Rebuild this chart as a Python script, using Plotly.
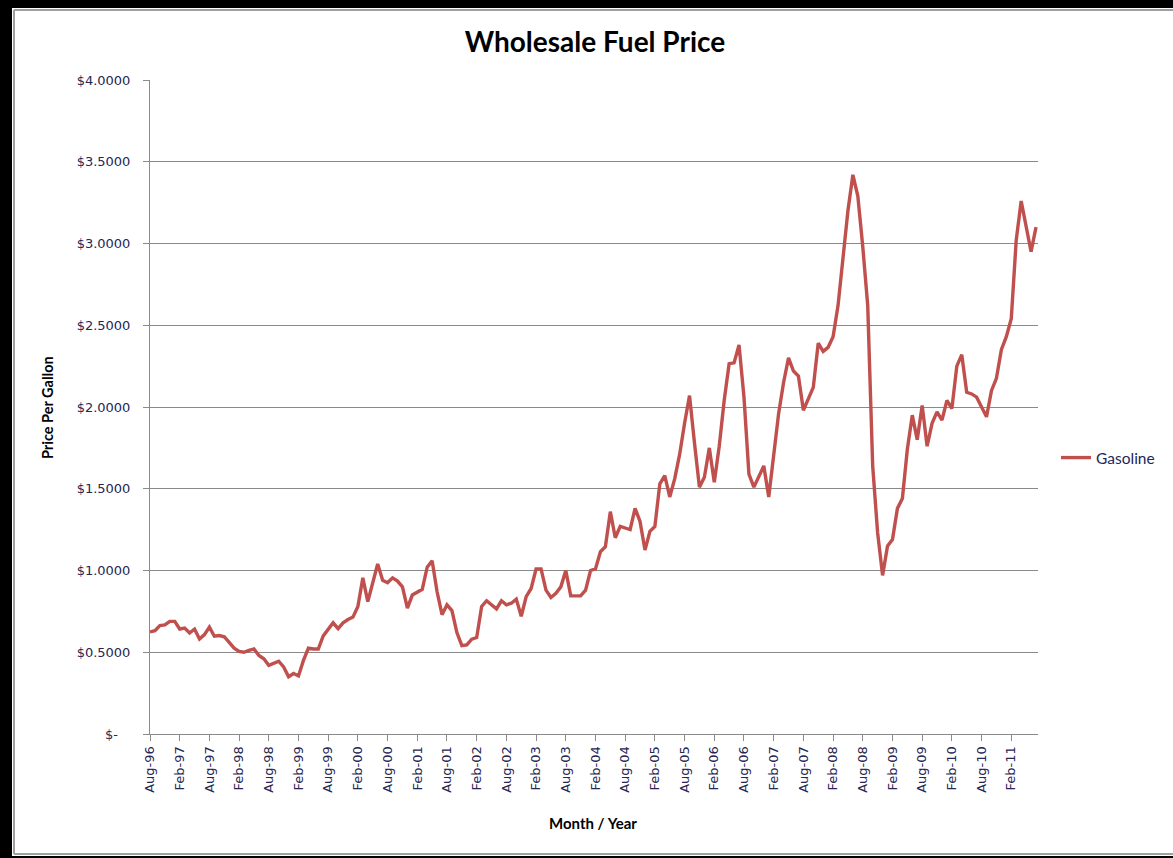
import pandas as pd
import plotly.graph_objects as go

# ---- data (monthly, Aug-1996 .. Jul-2011) ----
start_month = "1996-08-01"
gasoline = [
    0.624, 0.632, 0.663, 0.667, 0.689, 0.689, 0.642, 0.648, 0.618, 0.642,
    0.581, 0.608, 0.654, 0.598, 0.602, 0.595, 0.560, 0.525, 0.505, 0.500,
    0.512, 0.520, 0.480, 0.460, 0.420, 0.435, 0.445, 0.410, 0.350, 0.370,
    0.355, 0.450, 0.525, 0.520, 0.520, 0.600, 0.640, 0.680, 0.645, 0.680,
    0.700, 0.715, 0.780, 0.955, 0.810, 0.930, 1.040, 0.940, 0.925, 0.955,
    0.935, 0.900, 0.770, 0.850, 0.865, 0.885, 1.020, 1.060, 0.870, 0.730,
    0.790, 0.755, 0.620, 0.540, 0.545, 0.580, 0.590, 0.780, 0.815, 0.790,
    0.765, 0.815, 0.790, 0.800, 0.825, 0.720, 0.840, 0.890, 1.010, 1.010,
    0.880, 0.835, 0.860, 0.900, 1.000, 0.845, 0.845, 0.845, 0.880, 1.000,
    1.010, 1.115, 1.145, 1.360, 1.200, 1.270, 1.260, 1.250, 1.380, 1.300,
    1.125, 1.240, 1.270, 1.530, 1.580, 1.450, 1.560, 1.710, 1.900, 2.070,
    1.780, 1.510, 1.570, 1.750, 1.540, 1.760, 2.040, 2.265, 2.270, 2.380,
    2.060, 1.590, 1.510, 1.580, 1.640, 1.450, 1.690, 1.960, 2.150, 2.300,
    2.220, 2.190, 1.980, 2.050, 2.120, 2.390, 2.340, 2.365, 2.430, 2.620,
    2.900, 3.200, 3.420, 3.290, 2.980, 2.620, 1.640, 1.230, 0.970, 1.150,
    1.190, 1.380, 1.440, 1.740, 1.950, 1.800, 2.010, 1.760, 1.900, 1.970,
    1.920, 2.040, 1.990, 2.250, 2.320, 2.090, 2.080, 2.060, 2.000, 1.940,
    2.100, 2.175, 2.350, 2.430, 2.540, 3.020, 3.260, 3.100, 2.950, 3.100,
]
month_labels = list(pd.date_range(start_month, periods=len(gasoline), freq="MS").strftime("%b-%y"))
x_index = list(range(len(gasoline)))
tick_step = 6
x_tickvals = x_index[::tick_step]
x_ticktext = month_labels[::tick_step]
y_tickvals = [0, 0.5, 1.0, 1.5, 2.0, 2.5, 3.0, 3.5, 4.0]
y_ticktext = ["$-\u00a0\u00a0\u00a0"] + ["$%.4f" % v for v in y_tickvals[1:]]

# ---- layout geometry ----
W, H = 1173, 858
L, R, T, B = 150, 1038, 80, 734

def px(xp):
    return (xp - L) / (R - L)

def py(yp):
    return (B - yp) / (B - T)

TXT = "#262654"
GRID = "#8a8a8a"

fig = go.Figure()
fig.add_trace(go.Scatter(
    x=x_index, y=gasoline, mode="lines", name="Gasoline",
    line=dict(color="#C0504D", width=3.4),
))

shapes = [
    dict(type="rect", xref="paper", yref="paper", x0=px(-5), x1=px(12), y0=py(-5), y1=py(H + 5),
         fillcolor="black", line=dict(width=0), layer="above"),
    dict(type="rect", xref="paper", yref="paper", x0=px(-5), x1=px(W + 5), y0=py(-5), y1=py(8),
         fillcolor="black", line=dict(width=0), layer="above"),
    dict(type="rect", xref="paper", yref="paper", x0=px(-5), x1=px(W + 5), y0=py(856), y1=py(H + 5),
         fillcolor="black", line=dict(width=0), layer="above"),
    dict(type="line", xref="paper", yref="paper", x0=px(14), x1=px(W + 5), y0=py(10), y1=py(10),
         line=dict(color="#a0a0a0", width=2)),
    dict(type="line", xref="paper", yref="paper", x0=px(14), x1=px(14), y0=py(10), y1=py(854),
         line=dict(color="#a0a0a0", width=2)),
    dict(type="line", xref="paper", yref="paper", x0=px(14), x1=px(W + 5), y0=py(854), y1=py(854),
         line=dict(color="#a0a0a0", width=2)),
]

annotations = [
    dict(text="<b>Price Per Gallon</b>", xref="paper", yref="paper", x=px(48), y=py(408),
         textangle=-90, showarrow=False, font=dict(family="Lato", size=14.5, color="black"),
         xanchor="center", yanchor="middle"),
    dict(text="<b>Month / Year</b>", xref="paper", yref="paper", x=px(593), y=py(823),
         showarrow=False, font=dict(family="Lato", size=15, color="black"),
         xanchor="center", yanchor="middle"),
]

fig.update_layout(
    width=W, height=H,
    margin=dict(l=L, r=W - R, t=T, b=H - B),
    paper_bgcolor="white", plot_bgcolor="white",
    title=dict(text="<b>Wholesale Fuel Price</b>", x=595 / W, xref="container", xanchor="center",
               y=1 - 42 / H, yref="container", yanchor="middle",
               font=dict(family="Lato", size=28, color="black")),
    showlegend=True,
    legend=dict(x=px(1056), y=py(458), xanchor="left", yanchor="middle",
                font=dict(family="Lato", size=15.5, color=TXT), bgcolor="rgba(0,0,0,0)"),
    shapes=shapes,
    annotations=annotations,
)
fig.update_xaxes(
    range=[0, 179.4], tickmode="array", tickvals=x_tickvals, ticktext=x_ticktext,
    tickangle=-90, ticks="outside", ticklen=6, tickcolor=GRID,
    showline=True, linecolor=GRID, linewidth=1, showgrid=False, zeroline=False,
    tickfont=dict(family="DejaVu Sans", size=13, color=TXT),
)
fig.update_yaxes(
    range=[0, 4], tickmode="array", tickvals=y_tickvals, ticktext=y_ticktext,
    ticks="outside", ticklen=6, tickcolor=GRID, ticklabelstandoff=10,
    showline=True, linecolor=GRID, linewidth=1, showgrid=True, gridcolor=GRID, gridwidth=1,
    zeroline=False,
    tickfont=dict(family="DejaVu Sans", size=13, color=TXT),
)

fig.write_html(
    "out.html",
    config={"displayModeBar": False},
    post_script="document.body.style.margin='0';document.body.style.overflow='hidden';",
)
